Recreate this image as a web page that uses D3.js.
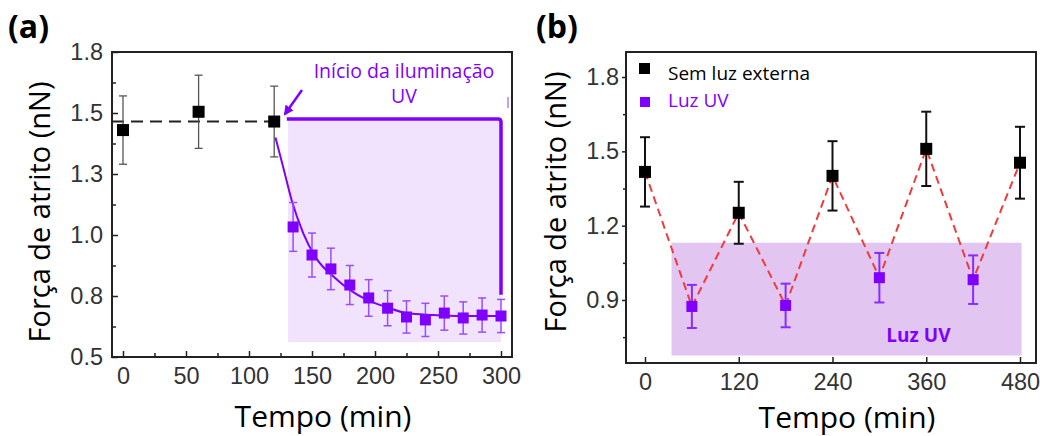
<!DOCTYPE html>
<html lang="pt">
<head>
<meta charset="UTF-8">
<title>Força de atrito</title>
<style>
  body { margin: 0; background: #fff; }
  svg text { font-family: "Open Sans", sans-serif; }
  .tick text { font-family: "Liberation Sans", Arial, sans-serif; font-size: 23.5px; fill: #333; }
</style>
</head>
<body>
<svg id="chart" width="1040" height="436"></svg>
<script src="https://d3js.org/d3.v7.min.js"></script>
<script>
// painel (a)
const aBlackT = [0, 60, 120];
const aBlackF = [1.43, 1.505, 1.465];
const aBlackErr = [0.14, 0.15, 0.145];
const aUvT = [135, 150, 165, 180, 195, 210, 225, 240, 255, 270, 285, 300];
const aUvF = [1.033, 0.918, 0.861, 0.795, 0.742, 0.70, 0.664, 0.652, 0.68, 0.66, 0.672, 0.668];
const aUvErr = [0.10, 0.09, 0.085, 0.08, 0.075, 0.072, 0.066, 0.068, 0.07, 0.066, 0.07, 0.068];
const aFitT = [121, 128, 134, 143, 154, 167, 180, 194, 209, 225, 246, 270, 300];
const aFitF = [1.40, 1.26, 1.14, 1.008, 0.90, 0.83, 0.775, 0.733, 0.705, 0.68, 0.672, 0.668, 0.668];
const aYTicks = [0.5, 0.75, 1.0, 1.25, 1.5, 1.75];
const aYLabels = ["0.5", "0.8", "1.0", "1.3", "1.5", "1.8"];
const aXTicks = [0, 50, 100, 150, 200, 250, 300];
const aBase = 1.465;               // nível tracejado
const aUvBox = [131, 300, 0.561, 1.47];   // t0, t1, f0, f1
const aUvBracket = [130, 300, 1.475, 0.755];

// painel (b)
const bOffT = [0, 120, 240, 360, 480];
const bOffF = [1.417, 1.252, 1.401, 1.51, 1.454];
const bOffErr = [0.14, 0.125, 0.14, 0.15, 0.145];
const bUvT = [60, 180, 300, 420];
const bUvF = [0.874, 0.878, 0.99, 0.982];
const bUvErr = [0.087, 0.088, 0.10, 0.098];
const bYTicks = [0.9, 1.2, 1.5, 1.8];
const bYLabels = ["0.9", "1.2", "1.5", "1.8"];
const bXTicks = [0, 120, 240, 360, 480];
const bUvBox = [34, 482, 0.676, 1.131];

const purple = "#8000ff";
const svg = d3.select("#chart");

function errPoints(g, x, y, ts, fs, errs, col, barCol, barW, size, cap) {
  const pts = ts.map((t, i) => ({ t, f: fs[i], e: errs[i] }));
  const eg = g.append("g").attr("stroke", barCol).attr("stroke-width", barW);
  pts.forEach(d => {
    eg.append("line").attr("x1", x(d.t)).attr("x2", x(d.t))
      .attr("y1", y(d.f - d.e)).attr("y2", y(d.f + d.e));
    [d.f - d.e, d.f + d.e].forEach(v => eg.append("line")
      .attr("x1", x(d.t) - cap).attr("x2", x(d.t) + cap)
      .attr("y1", y(v)).attr("y2", y(v)));
  });
  g.append("g").selectAll("rect").data(pts).join("rect")
    .attr("x", d => x(d.t) - size / 2).attr("y", d => y(d.f) - size / 2)
    .attr("width", size).attr("height", size).attr("fill", col);
}

// ---------- (a) ----------
const xa = d3.scaleLinear().domain([0, 300]).range([123, 501]);
const ya = d3.scaleLinear().domain([0.5, 1.75]).range([357, 52]);
const ga = svg.append("g");

ga.append("rect")
  .attr("x", xa(aUvBox[0])).attr("y", ya(aUvBox[3]))
  .attr("width", xa(aUvBox[1]) - xa(aUvBox[0]))
  .attr("height", ya(aUvBox[2]) - ya(aUvBox[3]))
  .attr("fill", "#f1e3fd");

ga.append("line")
  .attr("x1", 112).attr("x2", xa(118))
  .attr("y1", ya(aBase)).attr("y2", ya(aBase))
  .attr("stroke", "#222").attr("stroke-width", 2)
  .attr("stroke-dasharray", "12,7");

ga.append("path")
  .attr("d", `M${xa(aUvBracket[0])},${ya(aUvBracket[2])} H${xa(aUvBracket[1]) - 3}
              Q${xa(aUvBracket[1])},${ya(aUvBracket[2])} ${xa(aUvBracket[1])},${ya(aUvBracket[2]) + 3}
              V${ya(aUvBracket[3])}`)
  .attr("fill", "none").attr("stroke", purple).attr("stroke-width", 3.5);

ga.append("line")
  .attr("x1", 508).attr("x2", 508).attr("y1", 97).attr("y2", 108)
  .attr("stroke", "#b080f0").attr("stroke-width", 1.5);

const fitLine = d3.line().x(d => xa(d[0])).y(d => ya(d[1])).curve(d3.curveMonotoneX);
ga.append("path")
  .attr("d", fitLine(aFitT.map((t, i) => [t, aFitF[i]])))
  .attr("fill", "none").attr("stroke", purple).attr("stroke-width", 2);

errPoints(ga, xa, ya, aBlackT, aBlackF, aBlackErr, "#000", "#555", 1.3, 12, 4);
errPoints(ga, xa, ya, aUvT, aUvF, aUvErr, purple, "#9a4cff", 1.5, 11, 4);

// seta
ga.append("defs").append("marker")
  .attr("id", "arr").attr("viewBox", "0 0 10 10").attr("refX", 8).attr("refY", 5)
  .attr("markerWidth", 4).attr("markerHeight", 4).attr("orient", "auto")
  .append("path").attr("d", "M0,0 L10,5 L0,10 z").attr("fill", purple);
ga.append("line")
  .attr("x1", 302).attr("y1", 90).attr("x2", 285).attr("y2", 114)
  .attr("stroke", purple).attr("stroke-width", 2.5).attr("marker-end", "url(#arr)");

ga.append("text").attr("x", 404).attr("y", 78).attr("text-anchor", "middle")
  .attr("font-size", 19.5).attr("fill", purple).text("Início da iluminação");
ga.append("text").attr("x", 404).attr("y", 103).attr("text-anchor", "middle")
  .attr("font-size", 19.5).attr("fill", purple).text("UV");

// eixos (a)
ga.append("g").attr("transform", "translate(0,357)")
  .call(d3.axisBottom(xa).tickValues(aXTicks).tickSizeInner(-6).tickSizeOuter(0).tickPadding(10))
  .call(g => g.select(".domain").remove());
ga.append("g").attr("transform", "translate(0,357)")
  .call(d3.axisBottom(xa).tickValues(d3.range(25, 300, 50)).tickSize(-4).tickFormat(""))
  .call(g => g.select(".domain").remove());
ga.append("g").attr("transform", "translate(112,0)")
  .call(d3.axisLeft(ya).tickValues(aYTicks).tickFormat((d, i) => aYLabels[i])
    .tickSizeInner(-6).tickSizeOuter(0).tickPadding(9))
  .call(g => g.select(".domain").remove());
ga.append("g").attr("transform", "translate(112,0)")
  .call(d3.axisLeft(ya).tickValues(d3.range(0.625, 1.75, 0.25)).tickSize(-4).tickFormat(""))
  .call(g => g.select(".domain").remove());
ga.selectAll(".tick line").attr("stroke", "#222").attr("stroke-width", 1.5);
ga.append("rect").attr("x", 112).attr("y", 52).attr("width", 400).attr("height", 305)
  .attr("fill", "none").attr("stroke", "#222").attr("stroke-width", 2);

ga.append("text").attr("x", 323).attr("y", 427).attr("text-anchor", "middle")
  .attr("font-size", 30).attr("fill", "#000").text("Tempo (min)");
ga.append("text").attr("transform", "translate(50,212) rotate(-90)")
  .attr("text-anchor", "middle").attr("font-size", 29).attr("fill", "#000")
  .text("Força de atrito (nN)");
ga.append("text").attr("x", 8).attr("y", 38).attr("font-size", 32)
  .attr("font-weight", "bold").text("(a)");

// ---------- (b) ----------
const xb = d3.scaleLinear().domain([0, 480]).range([645, 1020]);
const yb = d3.scaleLinear().domain([0.9, 1.8]).range([300, 77]);
const gb = svg.append("g");

gb.append("rect")
  .attr("x", xb(bUvBox[0])).attr("y", yb(bUvBox[3]))
  .attr("width", xb(bUvBox[1]) - xb(bUvBox[0]))
  .attr("height", yb(bUvBox[2]) - yb(bUvBox[3]))
  .attr("fill", "#e3c5f2");
gb.append("text").attr("x", xb(350)).attr("y", 342).attr("text-anchor", "middle")
  .attr("font-size", 19).attr("font-weight", "bold").attr("fill", purple).text("Luz UV");

const allB = bOffT.map((t, i) => [t, bOffF[i]]).concat(bUvT.map((t, i) => [t, bUvF[i]]))
  .sort((p, q) => p[0] - q[0]);
gb.append("path")
  .attr("d", d3.line().x(d => xb(d[0])).y(d => yb(d[1]))(allB))
  .attr("fill", "none").attr("stroke", "#f23a3a").attr("stroke-width", 2)
  .attr("stroke-dasharray", "8,5");

errPoints(gb, xb, yb, bOffT, bOffF, bOffErr, "#000", "#111", 2, 12, 5);
errPoints(gb, xb, yb, bUvT, bUvF, bUvErr, purple, "#8a2cff", 2, 11, 5);

gb.append("g").attr("transform", "translate(0,363)")
  .call(d3.axisBottom(xb).tickValues(bXTicks).tickSizeInner(-6).tickSizeOuter(0).tickPadding(10))
  .call(g => g.select(".domain").remove());
gb.append("g").attr("transform", "translate(626,0)")
  .call(d3.axisLeft(yb).tickValues(bYTicks).tickFormat((d, i) => bYLabels[i])
    .tickSizeInner(4).tickSizeOuter(0).tickPadding(3))
  .call(g => g.select(".domain").remove());
gb.append("g").attr("transform", "translate(626,0)")
  .call(d3.axisLeft(yb).tickValues([0.75, 1.05, 1.35, 1.65]).tickSize(3).tickFormat(""))
  .call(g => g.select(".domain").remove());
gb.selectAll(".tick line").attr("stroke", "#222").attr("stroke-width", 1.5);
gb.append("rect").attr("x", 626).attr("y", 52).attr("width", 410).attr("height", 311)
  .attr("fill", "none").attr("stroke", "#222").attr("stroke-width", 2);

// legenda
gb.append("rect").attr("x", 639).attr("y", 63).attr("width", 11).attr("height", 11).attr("fill", "#000");
gb.append("text").attr("x", 668).attr("y", 80).attr("font-size", 19).attr("fill", "#000").text("Sem luz externa");
gb.append("rect").attr("x", 640).attr("y", 97).attr("width", 10).attr("height", 10).attr("fill", purple);
gb.append("text").attr("x", 668).attr("y", 107).attr("font-size", 19).attr("fill", purple).text("Luz UV");

gb.append("text").attr("x", 847).attr("y", 428).attr("text-anchor", "middle")
  .attr("font-size", 30).attr("fill", "#000").text("Tempo (min)");
gb.append("text").attr("transform", "translate(566,202) rotate(-90)")
  .attr("text-anchor", "middle").attr("font-size", 29).attr("fill", "#000")
  .text("Força de atrito (nN)");
gb.append("text").attr("x", 536).attr("y", 38).attr("font-size", 32)
  .attr("font-weight", "bold").text("(b)");
</script>
</body>
</html>
